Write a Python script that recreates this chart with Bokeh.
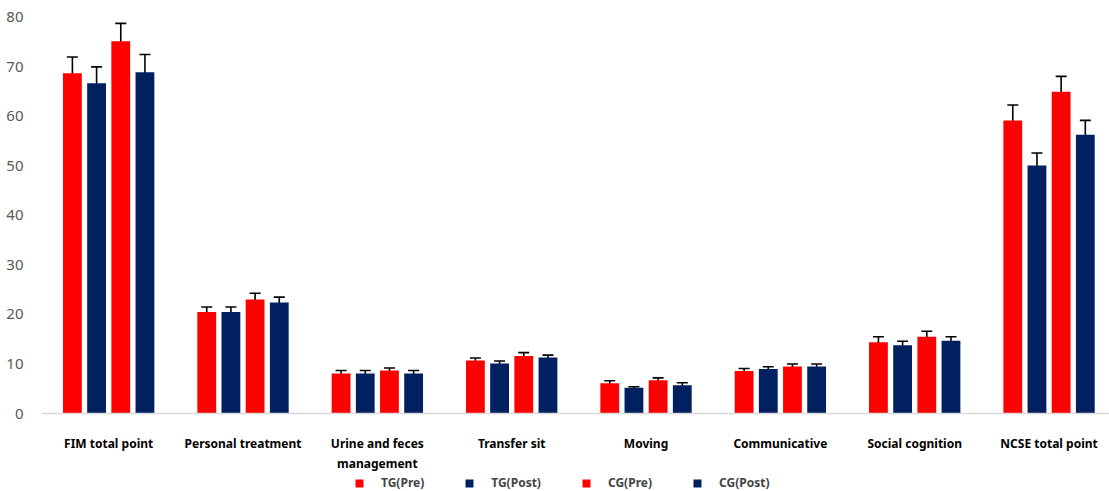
import numpy as np
from bokeh.plotting import figure
from bokeh.layouts import column
from bokeh.models import (ColumnDataSource, Whisker, TeeHead, Legend, LegendItem,
                          FixedTicker, Range1d)
from bokeh.embed import file_html
from bokeh.resources import INLINE

categories = ["FIM total point", "Personal treatment", "Urine and feces\nmanagement",
              "Transfer sit", "Moving", "Communicative", "Social cognition", "NCSE total point"]
series_names = ["TG(Pre)", "TG(Post)", "CG(Pre)", "CG(Post)"]
tg_pre = [68.7, 20.5, 8.1, 10.7, 6.1, 8.6, 14.4, 59.2]
tg_pre_err = [3.3, 1.0, 0.6, 0.5, 0.5, 0.5, 1.1, 3.1]
tg_post = [66.7, 20.5, 8.1, 10.1, 5.2, 9.0, 13.8, 50.1]
tg_post_err = [3.3, 1.0, 0.6, 0.5, 0.2, 0.45, 0.8, 2.5]
cg_pre = [75.2, 23.0, 8.7, 11.6, 6.7, 9.5, 15.5, 65.0]
cg_pre_err = [3.6, 1.3, 0.5, 0.7, 0.5, 0.5, 1.1, 3.1]
cg_post = [68.9, 22.4, 8.1, 11.3, 5.7, 9.5, 14.7, 56.3]
cg_post_err = [3.6, 1.1, 0.6, 0.5, 0.5, 0.5, 0.8, 2.9]
y_ticks = [0, 10, 20, 30, 40, 50, 60, 70, 80]

values = [tg_pre, tg_post, cg_pre, cg_post]
errors = [tg_pre_err, tg_post_err, cg_pre_err, cg_post_err]
colors = ["#FF0000", "#002060", "#FF0000", "#002060"]
offsets = [-0.27, -0.09, 0.09, 0.27]
bar_w = 0.14

p = figure(width=1109, height=474, output_backend="svg", toolbar_location=None,
           x_range=Range1d(-0.5, 7.45), y_range=Range1d(0, 81.8),
           min_border_left=41, min_border_right=0, min_border_top=8, min_border_bottom=58)
p.outline_line_color = None
p.grid.visible = False
p.background_fill_color = "white"
p.border_fill_color = "white"

idx = np.arange(len(categories))
for name, vals, errs, col, off in zip(series_names, values, errors, colors, offsets):
    v = np.array(vals)
    e = np.array(errs)
    src = ColumnDataSource(dict(x=idx + off, top=v, upper=v + e, lower=v - e))
    p.vbar(x="x", top="top", width=bar_w, source=src, fill_color=col, line_color=None)
    w = Whisker(base="x", upper="upper", lower="lower", source=src,
                line_color="black", line_width=1.6,
                upper_head=TeeHead(size=11, line_color="black", line_width=1.6),
                lower_head=TeeHead(size=11, line_color="black", line_width=1.6))
    p.add_layout(w)

# y axis
p.yaxis.ticker = FixedTicker(ticks=y_ticks)
p.yaxis.axis_line_color = None
p.yaxis.major_tick_line_color = None
p.yaxis.minor_tick_line_color = None
p.yaxis.major_label_text_color = "#595959"
p.yaxis.major_label_text_font = "Noto Sans"
p.yaxis.major_label_text_font_size = "15px"
p.yaxis.major_label_standoff = 12

# x axis
p.xaxis.ticker = FixedTicker(ticks=list(idx))
p.xaxis.major_label_overrides = {int(i): c for i, c in zip(idx, categories)}
p.xaxis.axis_line_color = "#D9D9D9"
p.xaxis.axis_line_width = 1.5
p.xaxis.major_tick_line_color = None
p.xaxis.minor_tick_line_color = None
p.xaxis.major_label_text_font = "Noto Sans"
p.xaxis.major_label_text_font_style = "bold"
p.xaxis.major_label_text_font_size = "12px"
p.xaxis.major_label_text_color = "#000000"
p.xaxis.major_label_standoff = 15

# legend strip
lf = figure(width=1109, height=17, output_backend="svg", toolbar_location=None,
            x_range=Range1d(0, 1), y_range=Range1d(0, 1),
            min_border=0, min_border_left=0, min_border_right=0,
            min_border_top=0, min_border_bottom=0)
lf.axis.visible = False
lf.grid.visible = False
lf.outline_line_color = None
items = []
for name, col in zip(series_names, colors):
    r = lf.vbar(x=[-10], top=[-5], bottom=[-6], width=0.1, fill_color=col, line_color=None)
    items.append(LegendItem(label=name, renderers=[r]))
legend = Legend(items=items, orientation="horizontal", location=(313, 0),
                glyph_width=10, glyph_height=10, label_standoff=17, spacing=40,
                label_height=17, label_text_font="Noto Sans", label_text_font_style="bold",
                label_text_font_size="12px", border_line_color=None,
                padding=0, margin=0, background_fill_alpha=0)
lf.add_layout(legend, "center")

open("out.html", "w").write(file_html(column(p, lf, spacing=0), INLINE))
